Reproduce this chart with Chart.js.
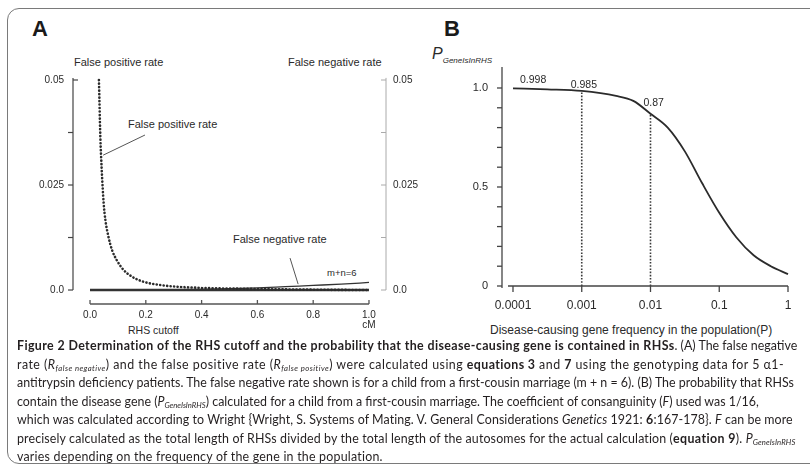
<!DOCTYPE html>
<html>
<head>
<meta charset="utf-8">
<script src="https://cdn.jsdelivr.net/npm/chart.js@4.4.1/dist/chart.umd.min.js"></script>
<style>
  body { margin: 0; width: 810px; height: 465px; overflow: hidden; background: #fff; position: relative;
         font-family: "Liberation Sans", Arial, sans-serif; color: #2a2a2a; }
  .frame { position: absolute; left: 7px; top: 8px; width: 840px; height: 456px; box-sizing: border-box;
           border: 1.5px solid #7a7a7a; border-radius: 12px; }
  .t { position: absolute; white-space: nowrap; line-height: 1; }
  .panel { position: absolute; font-weight: bold; font-size: 22px; color: #1a1a1a; }
  #boxA { position: absolute; left: 0; top: 40px; width: 420px; height: 300px; }
  #boxB { position: absolute; left: 420px; top: 40px; width: 390px; height: 300px; }
  #caption { position: absolute; left: 17px; top: 337px; font-family: Lato, "Open Sans", sans-serif;
             font-size: 13px; line-height: 18.5px; color: #231f20; }
  #caption div { white-space: nowrap; width: max-content; }
  #caption sub { font-size: 0.62em; vertical-align: -0.25em; line-height: 0; }
</style>
</head>
<body>
<div class="frame"></div>

<div class="t panel" style="left:32px;top:18px;">A</div>
<div class="t panel" style="left:444px;top:18px;">B</div>

<div class="t" style="left:74px;top:57px;font-size:11px;">False positive rate</div>
<div class="t" style="left:288px;top:57px;font-size:11px;">False negative rate</div>
<div class="t" style="left:128px;top:119px;font-size:11px;">False positive rate</div>
<div class="t" style="left:233px;top:234px;font-size:11px;">False negative rate</div>
<div class="t" style="left:327px;top:268px;font-size:9.5px;">m+n=6</div>
<div class="t" style="left:128px;top:325px;font-size:10.5px;">RHS cutoff</div>
<div class="t" style="left:490px;top:324px;font-size:12px;">Disease-causing gene frequency in the population(P)</div>
<div class="t" style="left:432px;top:46px;font-size:16px;font-style:italic;">P<span style="font-size:8px;position:relative;top:4px;">GeneIsInRHS</span></div>

<div id="boxA"><canvas id="chartA"></canvas></div>
<div id="boxB"><canvas id="chartB"></canvas></div>

<div id="caption">
  <div id="capLine1"><b>Figure 2 Determination of the RHS cutoff and the probability that the disease-causing gene is contained in RHSs</b>. (A) The false negative</div>
  <div>rate (<i>R</i><sub><i>false negative</i></sub>) and the false positive rate (<i>R</i><sub><i>false positive</i></sub>) were calculated using <b>equations 3</b> and <b>7</b> using the genotyping data for 5 α1-</div>
  <div id="capLine3">antitrypsin deficiency patients. The false negative rate shown is for a child from a first-cousin marriage (m + n = 6). (B) The probability that RHSs</div>
  <div>contain the disease gene (<i>P</i><sub><i>GeneIsInRHS</i></sub>) calculated for a child from a first-cousin marriage. The coefficient of consanguinity (<i>F</i>) used was 1/16,</div>
  <div>which was calculated according to Wright {Wright, S. Systems of Mating. V. General Considerations <i>Genetics</i> 1921: <b>6</b>:167-178}. <i>F</i> can be more</div>
  <div>precisely calculated as the total length of RHSs divided by the total length of the autosomes for the actual calculation (<b>equation 9</b>). <i>P</i><sub><i>GeneIsInRHS</i></sub></div>
  <div>varies depending on the frequency of the gene in the population.</div>
</div>

<script>
// ---- Panel A: RHS cutoff vs error rates ----
const xTicksA = [0, 0.2, 0.4, 0.6, 0.8, 1.0];
const xTickLabelsA = ['0.0', '0.2', '0.4', '0.6', '0.8', ['1.0', 'cM']];
const yTicksA = [0, 0.0125, 0.025, 0.0375, 0.05];
const yTickLabelsA = ['0.0', '', '0.025', '', '0.05'];

const fpX = [0.032, 0.034, 0.037, 0.042, 0.049, 0.055, 0.066, 0.079, 0.096, 0.12, 0.15, 0.19, 0.25, 0.31, 0.4, 0.55, 0.7, 0.85, 1.0];
const fpY = [0.050, 0.0444, 0.0365, 0.0286, 0.0206, 0.0167, 0.0127, 0.0095, 0.0071, 0.0048, 0.0032, 0.0020, 0.0012, 0.0008, 0.0005, 0.0003, 0.00015, 0.00005, 0];

const fnX = [0, 0.3, 0.4, 0.5, 0.6, 0.7, 0.8, 0.9, 1.0];
const fnY = [0, 0.00008, 0.00016, 0.0003, 0.0005, 0.0008, 0.0011, 0.0014, 0.0018];

const baseX = [0, 1.0];
const baseY = [0, 0];

// ---- Panel B: P(gene in RHS) vs gene frequency ----
const xTicksB = [0.0001, 0.001, 0.01, 0.1, 1];
const xTickLabelsB = ['0.0001', '0.001', '0.01', '0.1', '1'];
const yTicksB = [0, 0.1, 0.2, 0.3, 0.4, 0.5, 0.6, 0.7, 0.8, 0.9, 1.0];
const yTickLabelsB = ['0', '', '', '', '', '0.5', '', '', '', '', '1.0'];

const pX = [0.0001, 0.000316, 0.001, 0.00316, 0.00562, 0.01, 0.0178, 0.0316, 0.0562, 0.1, 0.178, 0.316, 0.562, 1];
const pY = [0.998, 0.993, 0.985, 0.96, 0.935, 0.87, 0.80, 0.68, 0.52, 0.37, 0.245, 0.155, 0.10, 0.06];

const markX = [0.0001, 0.001, 0.01];
const markY = [0.998, 0.985, 0.87];
const markText = ['0.998', '0.985', '0.87'];

const pts = (xs, ys) => xs.map((x, i) => ({ x: x, y: ys[i] }));

Chart.defaults.font.family = '"Liberation Sans", Arial, sans-serif';
Chart.defaults.color = '#2a2a2a';

function seg(ctx, x1, y1, x2, y2) {
    ctx.beginPath();
    ctx.moveTo(x1, y1);
    ctx.lineTo(x2, y2);
    ctx.stroke();
}

const axesA = {
    id: 'axesA',
    afterDraw(chart) {
        const { ctx, chartArea: ca, scales: { x, y } } = chart;
        ctx.save();
        ctx.lineWidth = 1.2;
        ctx.strokeStyle = '#444';
        seg(ctx, ca.left, y.getPixelForValue(0), ca.left, y.getPixelForValue(0.0505));
        yTicksA.forEach(v => {
            const py = y.getPixelForValue(v);
            if (v === 0.05) seg(ctx, ca.left, py, ca.left + 5, py);
            else seg(ctx, ca.left - 5, py, ca.left, py);
        });
        ctx.strokeStyle = '#aaa';
        ctx.lineWidth = 1;
        seg(ctx, ca.right, y.getPixelForValue(0), ca.right, y.getPixelForValue(0.0505));
        yTicksA.forEach(v => {
            const py = y.getPixelForValue(v);
            seg(ctx, ca.right - 5, py, ca.right, py);
        });
        ctx.strokeStyle = '#555';
        ctx.lineWidth = 1.3;
        seg(ctx, x.getPixelForValue(0), ca.bottom, x.getPixelForValue(1), ca.bottom);
        xTicksA.forEach(v => {
            const px = x.getPixelForValue(v);
            seg(ctx, px, ca.bottom - 4, px, ca.bottom);
        });
        // leader lines for the annotations
        ctx.strokeStyle = '#555';
        ctx.lineWidth = 1;
        seg(ctx, x.getPixelForValue(0.197), y.getPixelForValue(0.0369), x.getPixelForValue(0.047), y.getPixelForValue(0.0321));
        seg(ctx, x.getPixelForValue(0.717), y.getPixelForValue(0.0076), x.getPixelForValue(0.746), y.getPixelForValue(0.0014));
        ctx.restore();
    }
};

new Chart(document.getElementById('chartA'), {
    type: 'line',
    data: {
        datasets: [
            { label: 'False positive rate', data: pts(fpX, fpY), borderColor: '#2b2b2b', borderWidth: 2.6,
              borderDash: [0.1, 3.4], borderCapStyle: 'round', pointRadius: 0, cubicInterpolationMode: 'monotone', clip: false },
            { label: 'Zero', data: pts(baseX, baseY), borderColor: '#333', borderWidth: 2.4, pointRadius: 0, clip: false },
            { label: 'False negative rate', data: pts(fnX, fnY), borderColor: '#333', borderWidth: 1.3,
              pointRadius: 0, cubicInterpolationMode: 'monotone', clip: false }
        ]
    },
    options: {
        responsive: true, maintainAspectRatio: false, animation: false, devicePixelRatio: 1,
        layout: { padding: { left: 0, right: 0, top: 40, bottom: 0 } },
        plugins: { legend: { display: false }, tooltip: { enabled: false } },
        scales: {
            x: {
                type: 'linear', min: -0.061, max: 1.061,
                afterFit: s => { s.height = 36; },
                afterBuildTicks: s => { s.ticks = xTicksA.map(v => ({ value: v })); },
                grid: { display: false, drawTicks: false }, border: { display: false },
                ticks: { padding: 6, font: { size: 10, lineHeight: 1.0 }, maxRotation: 0,
                         callback: (v, i) => xTickLabelsA[i] }
            },
            y: {
                position: 'left', min: -0.00333, max: 0.05,
                afterFit: s => { s.width = 73; },
                afterBuildTicks: s => { s.ticks = yTicksA.map(v => ({ value: v })); },
                grid: { display: false, drawTicks: false }, border: { display: false },
                ticks: { padding: 9, font: { size: 10 }, callback: (v, i) => yTickLabelsA[i] }
            },
            y2: {
                position: 'right', min: -0.00333, max: 0.05,
                afterFit: s => { s.width = 34; },
                afterBuildTicks: s => { s.ticks = yTicksA.map(v => ({ value: v })); },
                grid: { display: false, drawTicks: false }, border: { display: false },
                ticks: { padding: 7, font: { size: 10 }, callback: (v, i) => yTickLabelsA[i] }
            }
        }
    },
    plugins: [axesA]
});

// where each value label sits relative to its point (pixels)
const markOffsets = [[7, -3], [-11, -1], [-7, -5]];

const axesB = {
    id: 'axesB',
    afterDraw(chart) {
        const { ctx, chartArea: ca, scales: { x, y } } = chart;
        ctx.save();
        ctx.strokeStyle = '#444';
        ctx.lineWidth = 1.3;
        seg(ctx, ca.left, ca.bottom + 2, ca.left, ca.top);
        yTicksB.forEach(v => {
            const py = y.getPixelForValue(v);
            seg(ctx, ca.left - 5, py, ca.left, py);
        });
        seg(ctx, x.getPixelForValue(0.0000846), ca.bottom, x.getPixelForValue(1), ca.bottom);
        xTicksB.forEach(v => {
            const px = x.getPixelForValue(v);
            seg(ctx, px, ca.bottom, px, ca.bottom + 6);
        });
        ctx.fillStyle = '#2a2a2a';
        ctx.font = '10.5px "Liberation Sans", Arial, sans-serif';
        ctx.textAlign = 'left';
        ctx.textBaseline = 'bottom';
        markX.forEach((mx, i) => {
            ctx.fillText(markText[i], x.getPixelForValue(mx) + markOffsets[i][0], y.getPixelForValue(markY[i]) + markOffsets[i][1]);
        });
        ctx.restore();
    }
};

const dropLines = markX.slice(1).map((mx, i) => ({
    label: 'drop ' + mx,
    data: [{ x: mx, y: 0 }, { x: mx, y: markY[i + 1] }],
    borderColor: '#3a3a3a', borderWidth: 1.6, borderDash: [1.6, 1.6], pointRadius: 0
}));

new Chart(document.getElementById('chartB'), {
    type: 'line',
    data: {
        datasets: [
            { label: 'P GeneIsInRHS', data: pts(pX, pY), borderColor: '#2b2b2b', borderWidth: 1.8,
              pointRadius: 0, cubicInterpolationMode: 'monotone', clip: false },
            ...dropLines
        ]
    },
    options: {
        responsive: true, maintainAspectRatio: false, animation: false, devicePixelRatio: 1,
        layout: { padding: { left: 0, right: 22, top: 27, bottom: 0 } },
        plugins: { legend: { display: false }, tooltip: { enabled: false } },
        scales: {
            x: {
                type: 'logarithmic', min: 0.0000692, max: 1,
                afterFit: s => { s.height = 54; },
                afterBuildTicks: s => { s.ticks = xTicksB.map(v => ({ value: v })); },
                grid: { display: false, drawTicks: false }, border: { display: false },
                ticks: { padding: 12, font: { size: 12 }, maxRotation: 0, autoSkip: false,
                         callback: (v, i) => xTickLabelsB[i] }
            },
            y: {
                min: 0, max: 1.106,
                afterFit: s => { s.width = 82; },
                afterBuildTicks: s => { s.ticks = yTicksB.map(v => ({ value: v })); },
                grid: { display: false, drawTicks: false }, border: { display: false },
                ticks: { padding: 14, font: { size: 11 }, autoSkip: false, callback: (v, i) => yTickLabelsB[i] }
            }
        }
    },
    plugins: [axesB]
});

// caption line widths as measured on the reference (px from the left margin); null = natural
const capWidths = [780, 773, 778, null, 776, 780, 366];

// fit caption: regular text sets the size, bold text is tightened so line 1 fits,
// then each remaining line gets a small letter-spacing tweak to match its width
document.fonts.ready.then(() => {
    const cap = document.getElementById('caption');
    const w3 = document.getElementById('capLine3').getBoundingClientRect().width;
    cap.style.fontSize = (13 * capWidths[2] / w3).toFixed(2) + 'px';
    const line1 = document.getElementById('capLine1');
    const bold = line1.querySelector('b');
    const w1 = line1.getBoundingClientRect().width;
    const ls = (capWidths[0] - w1) / bold.textContent.length;
    cap.querySelectorAll('b').forEach(b => { b.style.letterSpacing = ls.toFixed(3) + 'px'; });
    cap.querySelectorAll('div').forEach((line, i) => {
        if (i === 0 || i === 2 || capWidths[i] === null) return;
        const w = line.getBoundingClientRect().width;
        line.style.letterSpacing = ((capWidths[i] - w) / line.textContent.trim().length).toFixed(3) + 'px';
    });
});
</script>
</body>
</html>
